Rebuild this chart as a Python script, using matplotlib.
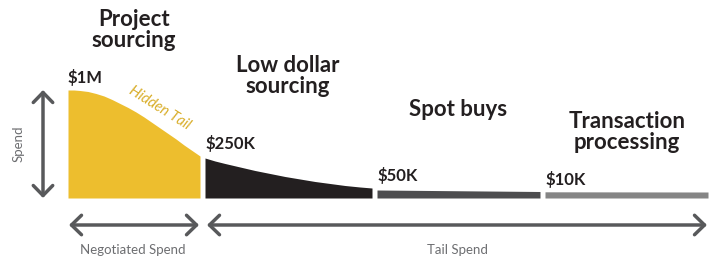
import matplotlib
matplotlib.use("Agg")
import matplotlib.pyplot as plt

plt.rcParams["font.family"] = ["Lato", "DejaVu Sans"]

# spend tiers (x in px across the figure, heights in px above the baseline)
segment_names = ["Project\nsourcing", "Low dollar\nsourcing", "Spot buys", "Transaction\nprocessing"]
value_labels = ["$1M", "$250K", "$50K", "$10K"]
segment_colors = ["#EDBE2E", "#231F20", "#4D4D4F", "#858585"]

yellow_x = [68, 74, 80, 88, 96, 104, 112, 120, 128, 136, 144, 152, 160, 168, 176, 184, 192, 200]
yellow_h = [108, 108, 107.5, 106.5, 104.5, 102, 98.5, 94.5, 90.5, 86, 81, 75.5, 70, 64.5, 59, 53, 47.5, 42]

black_x = [205, 215, 225, 240, 255, 270, 285, 300, 315, 330, 345, 360, 372]
black_h = [40, 37, 34.5, 31, 27.5, 24.5, 21.5, 19, 16.5, 14.5, 12.5, 11, 10]

spot_x = [377, 540]
spot_h = [8, 6.5]

trans_x = [545, 708]
trans_h = [6.2, 6]

fig = plt.figure(figsize=(7.14, 2.63), dpi=100)
ax = fig.add_axes([0, 0, 1, 1])
ax.set_xlim(0, 714)
ax.set_ylim(-65, 198)
ax.axis("off")

for xs, hs, c in zip([yellow_x, black_x, spot_x, trans_x],
                     [yellow_h, black_h, spot_h, trans_h], segment_colors):
    ax.fill_between(xs, 0, hs, color=c, linewidth=0)

ax.text(160, 90, "Hidden Tail", color="#D9AE2A", fontsize=10.5, style="italic",
        rotation=-32, ha="center", va="center")

# value labels above each tier
label_pos = [(68, 121), (205, 55), (377, 22), (546, 19)]
for (lx, ly), txt in zip(label_pos, value_labels):
    ax.text(lx, ly, txt, fontsize=12, fontweight="bold", color="#231F20",
            ha="left", va="center")

# tier titles
title_pos = [(134, 168), (288, 122), (458, 88), (627, 66)]
for (tx, ty), txt in zip(title_pos, segment_names):
    ax.text(tx, ty, txt, fontsize=16, fontweight="bold", color="#231F20",
            ha="center", va="center", linespacing=1.0)

arrow_col = "#58595B"
aprops = dict(arrowstyle="<->,head_length=0.72,head_width=0.7", color=arrow_col,
              lw=2.5, shrinkA=0, shrinkB=0)

# vertical spend arrow
ax.annotate("", xy=(43, 108), xytext=(43, 0), arrowprops=aprops)
ax.text(19, 54, "Spend", rotation=90, fontsize=9.5, color="#6D6E71",
        ha="center", va="center")

# horizontal arrows
ax.annotate("", xy=(69, -27), xytext=(199, -27), arrowprops=aprops)
ax.annotate("", xy=(207, -27), xytext=(707, -27), arrowprops=aprops)
ax.text(133, -52, "Negotiated Spend", fontsize=9.5, color="#6D6E71", ha="center", va="center")
ax.text(457, -52, "Tail Spend", fontsize=9.5, color="#6D6E71", ha="center", va="center")

fig.savefig("out.png", dpi=100, facecolor="white")
